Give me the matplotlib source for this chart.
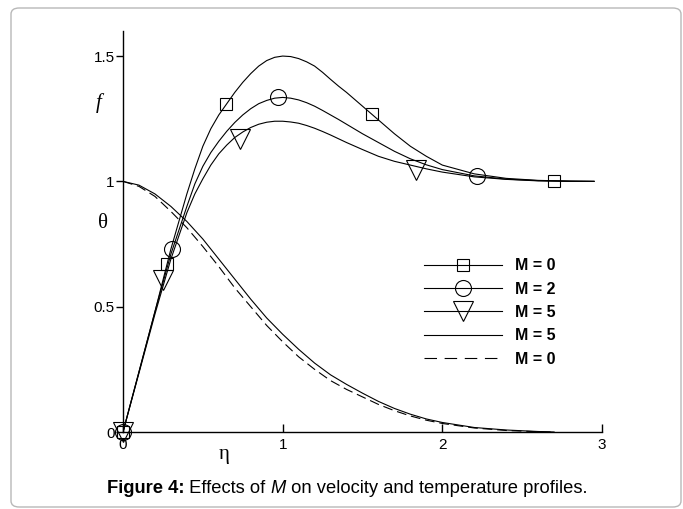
import numpy as np
import matplotlib
matplotlib.use('Agg')
import matplotlib.pyplot as plt
from matplotlib.lines import Line2D
from matplotlib.patches import FancyBboxPatch

plt.rcParams['font.family'] = ['Liberation Sans', 'DejaVu Sans']
plt.rcParams['lines.scale_dashes'] = False

# velocity profiles f(eta)
eta_f = np.array([0, 0.1, 0.2, 0.3, 0.4, 0.45, 0.5, 0.55, 0.6, 0.65, 0.7, 0.75, 0.8, 0.85, 0.9, 0.95,
                  1.0, 1.05, 1.1, 1.15, 1.2, 1.25, 1.3, 1.35, 1.4, 1.5, 1.6, 1.7, 1.8, 1.9, 2.0,
                  2.2, 2.4, 2.6, 2.8, 2.95])
f_M0 = np.array([0, 0.24, 0.48, 0.73, 0.95, 1.05, 1.14, 1.21, 1.265, 1.31, 1.355, 1.395, 1.43, 1.46, 1.482, 1.495,
                 1.50, 1.498, 1.49, 1.477, 1.46, 1.435, 1.407, 1.38, 1.355, 1.30, 1.245, 1.19, 1.14, 1.10, 1.065,
                 1.03, 1.012, 1.004, 1.001, 1.0])
f_M2 = np.array([0, 0.24, 0.48, 0.71, 0.90, 0.99, 1.06, 1.115, 1.16, 1.20, 1.235, 1.265, 1.29, 1.31, 1.323, 1.332,
                 1.335, 1.332, 1.325, 1.314, 1.30, 1.283, 1.265, 1.247, 1.228, 1.19, 1.155, 1.12, 1.09, 1.066, 1.047,
                 1.022, 1.009, 1.003, 1.001, 1.0])
f_M5 = np.array([0, 0.235, 0.47, 0.69, 0.875, 0.95, 1.01, 1.065, 1.11, 1.145, 1.175, 1.197, 1.215, 1.228, 1.236, 1.24,
                 1.24, 1.237, 1.232, 1.223, 1.212, 1.199, 1.185, 1.17, 1.155, 1.127, 1.10, 1.08, 1.065, 1.05, 1.037,
                 1.018, 1.008, 1.002, 1.0, 1.0])

# temperature profiles theta(eta)
eta_t = np.array([0, 0.1, 0.2, 0.3, 0.4, 0.5, 0.6, 0.7, 0.8, 0.9, 1.0, 1.1, 1.2, 1.3,
                  1.4, 1.5, 1.6, 1.7, 1.8, 1.9, 2.0, 2.2, 2.4, 2.6, 2.7])
theta_M5 = np.array([1.0, 0.985, 0.95, 0.90, 0.84, 0.77, 0.69, 0.61, 0.53, 0.455, 0.39, 0.33, 0.275, 0.228,
                     0.19, 0.155, 0.122, 0.094, 0.071, 0.052, 0.038, 0.018, 0.008, 0.002, 0.0])
theta_M0 = np.array([1.0, 0.98, 0.94, 0.88, 0.815, 0.74, 0.66, 0.575, 0.50, 0.425, 0.36, 0.30, 0.25, 0.205,
                     0.17, 0.14, 0.11, 0.085, 0.064, 0.047, 0.034, 0.016, 0.006, 0.001, 0.0])

# symbols along the f curves
sq_eta = [0, 0.275, 0.645, 1.56, 2.7]
sq_f = [0, 0.67, 1.307, 1.267, 1.0]
ci_eta = [0, 0.31, 0.97, 2.22]
ci_f = [0, 0.73, 1.335, 1.02]
tr_eta = [0, 0.25, 0.73, 1.835]
tr_f = [0, 0.605, 1.17, 1.044]

legend_labels = ['M = 0', 'M = 2', 'M = 5', 'M = 5', 'M = 0']
xticks = [0, 1, 2, 3]
yticks = [0, 0.5, 1, 1.5]
yticklabels = ['0', '0.5', '1', '1.5']

W, H = 683, 509
fig = plt.figure(figsize=(W / 100, H / 100), dpi=100)
fig.patch.set_facecolor('white')

# rounded frame round the figure
frame = FancyBboxPatch((11 / W, 2 / H), 670 / W, 499 / H,
                       boxstyle='round,pad=0,rounding_size=0.012',
                       transform=fig.transFigure, fc='none', ec='#b8b8b8', lw=1.0)
fig.patches.append(frame)

ax = fig.add_axes([123 / W, 1 - 432 / H, 479 / W, 401 / H])
ax.set_xlim(0, 3)
ax.set_ylim(0, 1.6)
for s in ['top', 'right']:
    ax.spines[s].set_visible(False)
for s in ['left', 'bottom']:
    ax.spines[s].set_linewidth(1.0)

lw = 0.8
ax.plot(eta_f, f_M0, color='black', lw=lw)
ax.plot(eta_f, f_M2, color='black', lw=lw)
ax.plot(eta_f, f_M5, color='black', lw=lw)
ax.plot(eta_t, theta_M5, color='black', lw=lw)
ax.plot(eta_t, theta_M0, color='black', lw=lw, dashes=(7, 3.5))

mk = dict(linestyle='none', mfc='none', mec='black', mew=0.8, clip_on=False, zorder=3)
ax.plot(sq_eta, sq_f, marker='s', ms=8, **mk)
ax.plot(ci_eta, ci_f, marker='o', ms=11.5, **mk)
ax.plot(tr_eta, tr_f, marker='v', ms=15, **mk)

ax.set_xticks(xticks)
ax.set_xticklabels([str(t) for t in xticks])
ax.set_yticks(yticks)
ax.set_yticklabels(yticklabels)
ax.tick_params(axis='x', direction='in', length=6, width=1, pad=4, labelsize=11)
ax.tick_params(axis='y', direction='out', length=5, width=1, pad=1, labelsize=11)

handles = [
    Line2D([], [], color='black', lw=lw, marker='s', ms=8, mfc='none', mec='black', mew=0.8),
    Line2D([], [], color='black', lw=lw, marker='o', ms=11.5, mfc='none', mec='black', mew=0.8),
    Line2D([], [], color='black', lw=lw, marker='v', ms=15, mfc='none', mec='black', mew=0.8),
    Line2D([], [], color='black', lw=lw),
    Line2D([], [], color='black', lw=lw, dashes=(9, 5.5)),
]
fs_leg = 11.5
ax.legend(handles, legend_labels, loc='upper left', bbox_to_anchor=(0.628, 0.433),
          frameon=False, numpoints=1, handlelength=78 / (fs_leg * 1.389),
          handletextpad=13 / (fs_leg * 1.389),
          labelspacing=0.52, borderpad=0, borderaxespad=0,
          prop=dict(family='Liberation Sans', weight='bold', size=fs_leg))

# axis symbols
fig.text(99 / W, 1 - 103 / H, 'f', family='Liberation Serif', style='italic', size=15,
         ha='center', va='center')
fig.text(103 / W, 1 - 223 / H, 'θ', family='Liberation Serif', size=15, ha='center', va='center')
fig.text(224 / W, 1 - 455 / H, 'η', family='Liberation Serif', size=15, ha='center', va='center')

# caption built from pieces
pieces = [('Figure 4:', 'bold', 'normal'), (' Effects of ', 'normal', 'normal'),
          ('M', 'normal', 'italic'), (' on velocity and temperature profiles.', 'normal', 'normal')]
renderer = fig.canvas.get_renderer()
texts = []
for s, wgt, sty in pieces:
    t = fig.text(0, 1 - 493 / H, s, size=13.2, weight=wgt, style=sty, ha='left', va='baseline')
    texts.append(t)
widths = [t.get_window_extent(renderer).width for t in texts]
x = 347 - sum(widths) / 2
for t, w in zip(texts, widths):
    t.set_x(x / W)
    x += w

fig.savefig('out.png', dpi=100)
